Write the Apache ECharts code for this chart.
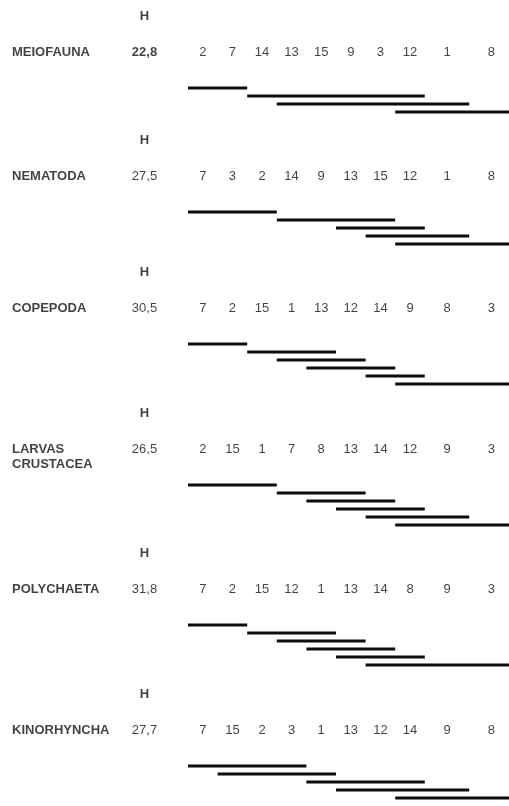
<!DOCTYPE html>
<html>
<head>
<meta charset="utf-8">
<script src="https://cdn.jsdelivr.net/npm/echarts@6/dist/echarts.min.js"></script>
<style>
  html, body { margin: 0; padding: 0; background: #ffffff; }
  #chart { width: 509px; height: 806px; }
</style>
</head>
<body>
<div id="chart"></div>
<script>
// ---------------- DATA ----------------
const groups = ['MEIOFAUNA', 'NEMATODA', 'COPEPODA', 'LARVAS\nCRUSTACEA', 'POLYCHAETA', 'KINORHYNCHA'];
const hValues = ['22,8', '27,5', '30,5', '26,5', '31,8', '27,7'];
const hBold = [true, false, false, false, false, false];
const hHeader = 'H';

// station order (ranked) for each group
const ranksMeiofauna   = [2, 7, 14, 13, 15, 9, 3, 12, 1, 8];
const ranksNematoda    = [7, 3, 2, 14, 9, 13, 15, 12, 1, 8];
const ranksCopepoda    = [7, 2, 15, 1, 13, 12, 14, 9, 8, 3];
const ranksLarvas      = [2, 15, 1, 7, 8, 13, 14, 12, 9, 3];
const ranksPolychaeta  = [7, 2, 15, 12, 1, 13, 14, 8, 9, 3];
const ranksKinorhyncha = [7, 15, 2, 3, 1, 13, 12, 14, 9, 8];
const ranks = [ranksMeiofauna, ranksNematoda, ranksCopepoda, ranksLarvas, ranksPolychaeta, ranksKinorhyncha];

// non-significant groupings: [from column boundary, to column boundary]
const linesMeiofauna   = [[0, 2], [2, 8], [3, 9], [7, 10]];
const linesNematoda    = [[0, 3], [3, 7], [5, 8], [6, 9], [7, 10]];
const linesCopepoda    = [[0, 2], [2, 5], [3, 6], [4, 7], [6, 8], [7, 10]];
const linesLarvas      = [[0, 3], [3, 6], [4, 7], [5, 8], [6, 9], [7, 10]];
const linesPolychaeta  = [[0, 2], [2, 5], [3, 6], [4, 7], [5, 8], [6, 10]];
const linesKinorhyncha = [[0, 4], [1, 5], [4, 8], [5, 9], [7, 10]];
const underlines = [linesMeiofauna, linesNematoda, linesCopepoda, linesLarvas, linesPolychaeta, linesKinorhyncha];

// column boundaries on the x scale (last two columns are wider)
const columnEdges = [0, 1, 2, 3, 4, 5, 6, 7, 8, 9.5, 11];

// ---------------- LAYOUT ----------------
const W = 509;
const originPx = 188;      // pixel where boundary 0 sits
const unitPx = 29.6;       // pixels per column unit
const rowPx = 8;           // pixels per underline row
const panelLineTop = [88, 212, 344, 485, 625, 766];
const yMin = -9, yMax = 5;
const rowNumbers = -4.4;
const rowHeader = -8.9;
const nameX = (12 - originPx) / unitPx;
const hX = (144.5 - originPx) / unitPx;

const textColor = '#111111';
const lineColor = '#0d0d0d';
const font = 'Liberation Sans, Arial, Helvetica, sans-serif';

const grids = [], xAxes = [], yAxes = [], series = [];

groups.forEach((g, p) => {
  grids.push({
    left: 0, width: W,
    top: panelLineTop[p] - (0 - yMin) * rowPx,
    height: (yMax - yMin) * rowPx,
    containLabel: false
  });
  xAxes.push({ gridIndex: p, type: 'value', min: -originPx / unitPx, max: (W - originPx) / unitPx, show: false });
  yAxes.push({ gridIndex: p, type: 'value', min: yMin, max: yMax, inverse: true, show: false });

  // underline bars
  series.push({
    type: 'custom',
    xAxisIndex: p, yAxisIndex: p,
    clip: false,
    silent: true,
    data: underlines[p].map((seg, k) => [columnEdges[seg[0]], columnEdges[seg[1]], k]),
    encode: { x: [0, 1], y: 2 },
    renderItem: function (params, api) {
      const a = api.coord([api.value(0), api.value(2)]);
      const b = api.coord([api.value(1), api.value(2)]);
      return {
        type: 'line',
        shape: { x1: a[0], y1: a[1], x2: b[0], y2: b[1] },
        style: { stroke: lineColor, lineWidth: 3, lineCap: 'butt' }
      };
    }
  });

  // station numbers
  series.push({
    type: 'scatter',
    xAxisIndex: p, yAxisIndex: p,
    symbolSize: 0,
    silent: true,
    data: ranks[p].map((r, i) => [(columnEdges[i] + columnEdges[i + 1]) / 2, rowNumbers, r]),
    label: {
      show: true, position: 'inside',
      formatter: (d) => String(d.value[2]),
      fontFamily: font, fontSize: 13, color: textColor
    }
  });

  // group name, H header and H value
  series.push({
    type: 'scatter',
    xAxisIndex: p, yAxisIndex: p,
    symbolSize: 0,
    silent: true,
    data: [
      { value: [nameX, rowNumbers], label: { formatter: g, align: 'left', verticalAlign: 'top', offset: [0, -8], fontWeight: 'bold', lineHeight: 15 } },
      { value: [hX, rowHeader], label: { formatter: hHeader, fontWeight: 'bold' } },
      { value: [hX, rowNumbers], label: { formatter: hValues[p], fontWeight: hBold[p] ? 'bold' : 'normal' } }
    ],
    label: {
      show: true, position: 'inside',
      fontFamily: font, fontSize: 13, color: textColor
    }
  });
});

const chart = echarts.init(document.getElementById('chart'), null, { renderer: 'canvas' });
chart.setOption({
  backgroundColor: '#ffffff',
  animation: false,
  grid: grids,
  xAxis: xAxes,
  yAxis: yAxes,
  series: series
});
</script>
</body>
</html>
